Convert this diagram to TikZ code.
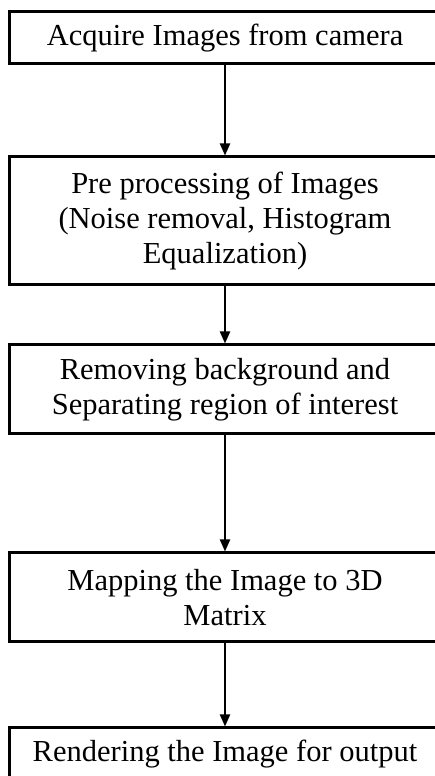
\documentclass[tikz,border=0pt]{standalone}
\usepackage{fontspec}
\setmainfont{Liberation Serif}
\usetikzlibrary{arrows.meta,positioning}

\tikzset{
  stage/.style={draw,line width=3pt,minimum width=432pt,align=center,inner sep=0pt,
    font=\fontsize{30.5}{35}\selectfont},
  flow/.style={-{Triangle[width=10pt,length=12pt]},line width=2pt}
}

\begin{document}
\begin{tikzpicture}[x=1pt,y=1pt]
  \useasboundingbox (0,0) rectangle (434,776);
  \node[stage,minimum height=52pt] (acquire) at (225,738) {Acquire Images from camera};
  \node[stage,minimum height=128pt] (preproc) at (225,555) {Pre processing of Images\\(Noise removal, Histogram\\Equalization)};
  \node[stage,minimum height=89pt] (removebg) at (225,386.5) {Removing background and\\Separating region of interest};
  \node[stage,minimum height=89pt] (mapping) at (225,178.5) {Mapping the Image to 3D\\Matrix};
  \node[stage,minimum height=52pt] (render) at (225,22) {Rendering the Image for output};
  %arrows between the stages
  \draw[flow] (acquire) -- (preproc);
  \draw[flow] (preproc) -- (removebg);
  \draw[flow] (removebg) -- (mapping);
  \draw[flow] (mapping) -- (render);
\end{tikzpicture}
\end{document}
